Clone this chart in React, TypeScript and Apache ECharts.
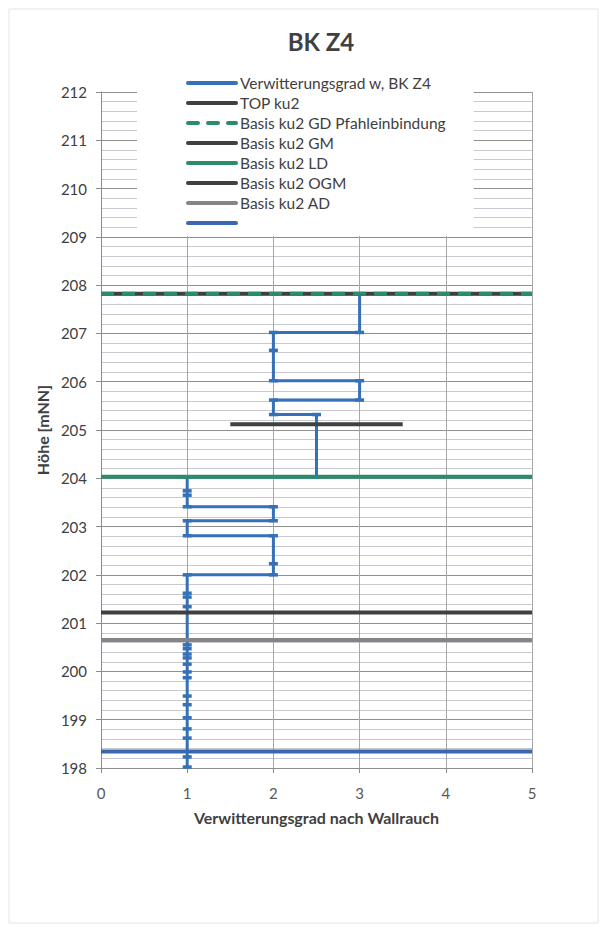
import React, { useEffect, useRef } from "react";
import * as echarts from "echarts";

// Weathering profile BK Z4 (x = Verwitterungsgrad, y = Höhe mNN)
const weatheringX = [3, 3, 2, 2, 2, 3, 3, 2, 2, 2.5, 2.5, 1, 1, 1, 1, 2, 2, 1, 1, 2, 2, 2, 1, 1, 1, 1, 1, 1, 1, 1, 1, 1, 1, 1, 1, 1, 1, 1, 1, 1];
const heightY = [207.82, 207.02, 207.02, 206.65, 206.02, 206.02, 205.62, 205.62, 205.32, 205.32, 204.03, 204.03, 203.74, 203.65, 203.41, 203.41, 203.12, 203.12, 202.81, 202.81, 202.23, 202.0, 202.0, 201.62, 201.54, 201.34, 200.55, 200.47, 200.36, 200.28, 200.15, 199.99, 199.87, 199.49, 199.31, 199.04, 198.81, 198.62, 198.23, 198.02];

// Horizontal reference levels
const levelNames = ["TOP ku2", "Basis ku2 GD Pfahleinbindung", "Basis ku2 GM", "Basis ku2 LD", "Basis ku2 OGM", "Basis ku2 AD", " "];
const levelHeights = [207.82, 207.82, 205.12, 204.03, 201.22, 200.65, 198.34];
const levelXStart = [0, 0, 1.5, 0, 0, 0, 0];
const levelXEnd = [5, 5, 3.5, 5, 5, 5, 5];

const xTicks = { min: 0, max: 5, interval: 1 };
const yTicks = { min: 198, max: 212, interval: 1 };

const FONT = "Lato, 'Open Sans', sans-serif";

export default function App() {
  const ref = useRef<HTMLDivElement>(null);

  useEffect(() => {
    document.body.style.margin = "0";
    if (!ref.current) return;
    const chart = echarts.init(ref.current, undefined, { renderer: "svg" });

    const blue = "#3571B8";
    const levelStyles: any[] = [
      { color: "#404040", width: 4, type: "solid" },
      { color: "#2B8C6B", width: 4, type: [13, 8] },
      { color: "#404040", width: 4, type: "solid" },
      { color: "#2B8C6B", width: 4, type: "solid" },
      { color: "#433E40", width: 4, type: "solid" },
      { color: "#858585", width: 4, type: "solid" },
      { color: "#3A68AF", width: 4, type: "solid" },
    ];

    const profileData = weatheringX.map((x, i) => [x, heightY[i]]);

    const series: any[] = [
      {
        name: "Verwitterungsgrad w, BK Z4",
        type: "line",
        data: profileData,
        symbol: "rect",
        symbolSize: [9, 3.5],
        showSymbol: true,
        itemStyle: { color: blue },
        lineStyle: { color: blue, width: 3 },
        z: 2,
      },
    ];
    levelNames.forEach((n, i) => {
      series.push({
        name: n,
        type: "line",
        data: [
          [levelXStart[i], levelHeights[i]],
          [levelXEnd[i], levelHeights[i]],
        ],
        symbol: "none",
        itemStyle: { color: levelStyles[i].color },
        lineStyle: levelStyles[i],
        z: 3 + (i === 1 ? 1 : 0),
      });
    });

    const legendData: any[] = ["Verwitterungsgrad w, BK Z4", ...levelNames].map((n) =>
      n === "Basis ku2 GD Pfahleinbindung"
        ? { name: n, lineStyle: { width: 4, cap: "round", type: [10, 10] } }
        : { name: n }
    );

    chart.setOption({
      animation: false,
      backgroundColor: "#ffffff",
      textStyle: { fontFamily: FONT },
      title: {
        text: "BK Z4",
        left: 316,
        top: 24,
        textAlign: "center",
        textStyle: { fontFamily: FONT, fontSize: 24, fontWeight: "bold", color: "#404040" },
      },
      graphic: [
        {
          type: "rect",
          shape: { x: 9, y: 9, width: 589, height: 914 },
          style: { fill: "none", stroke: "#e4e4e4", lineWidth: 1 },
          silent: true,
        },
      ],
      legend: {
        left: 137,
        top: 70,
        orient: "vertical",
        backgroundColor: "#ffffff",
        padding: [5, 28, 5, 49],
        itemWidth: 48,
        itemHeight: 14,
        itemGap: 4,
        itemStyle: { opacity: 0 },
        lineStyle: { width: 4, cap: "round" },
        textStyle: { fontFamily: FONT, fontSize: 15.5, lineHeight: 14, color: "#404040", padding: [0, 0, 0, -1] },
        data: legendData,
        z: 10,
      },
      grid: { left: 101, right: 74, top: 92, bottom: 159 },
      xAxis: {
        type: "value",
        min: xTicks.min,
        max: xTicks.max,
        interval: xTicks.interval,
        name: "Verwitterungsgrad nach Wallrauch",
        nameLocation: "middle",
        nameGap: 41,
        nameTextStyle: { fontFamily: FONT, fontSize: 16, fontWeight: "bold", color: "#404040" },
        axisLine: { onZero: false, lineStyle: { color: "#8c8c8c", width: 1 } },
        axisTick: { show: true, length: 5, lineStyle: { color: "#8c8c8c" } },
        axisLabel: { fontFamily: FONT, fontSize: 15, color: "#595959", margin: 17 },
        splitLine: { show: true, lineStyle: { color: "#a6a6a6", width: 1 } },
      },
      yAxis: {
        type: "value",
        min: yTicks.min,
        max: yTicks.max,
        interval: yTicks.interval,
        name: "Höhe [mNN]",
        nameLocation: "middle",
        nameGap: 48,
        nameTextStyle: { fontFamily: FONT, fontSize: 16, fontWeight: "bold", color: "#404040" },
        axisLine: { show: true, onZero: false, lineStyle: { color: "#8c8c8c", width: 1 } },
        axisTick: { show: true, length: 5, lineStyle: { color: "#8c8c8c" } },
        axisLabel: { fontFamily: FONT, fontSize: 15, color: "#404040", margin: 14 },
        splitLine: { show: true, lineStyle: { color: "#8f8f8f", width: 1 } },
        minorTick: { show: false, splitNumber: 5 },
        minorSplitLine: { show: true, lineStyle: { color: "#c8c9d0", width: 1 } },
      },
      series,
    });

    return () => chart.dispose();
  }, []);

  return <div ref={ref} style={{ width: 606, height: 927 }} />;
}
